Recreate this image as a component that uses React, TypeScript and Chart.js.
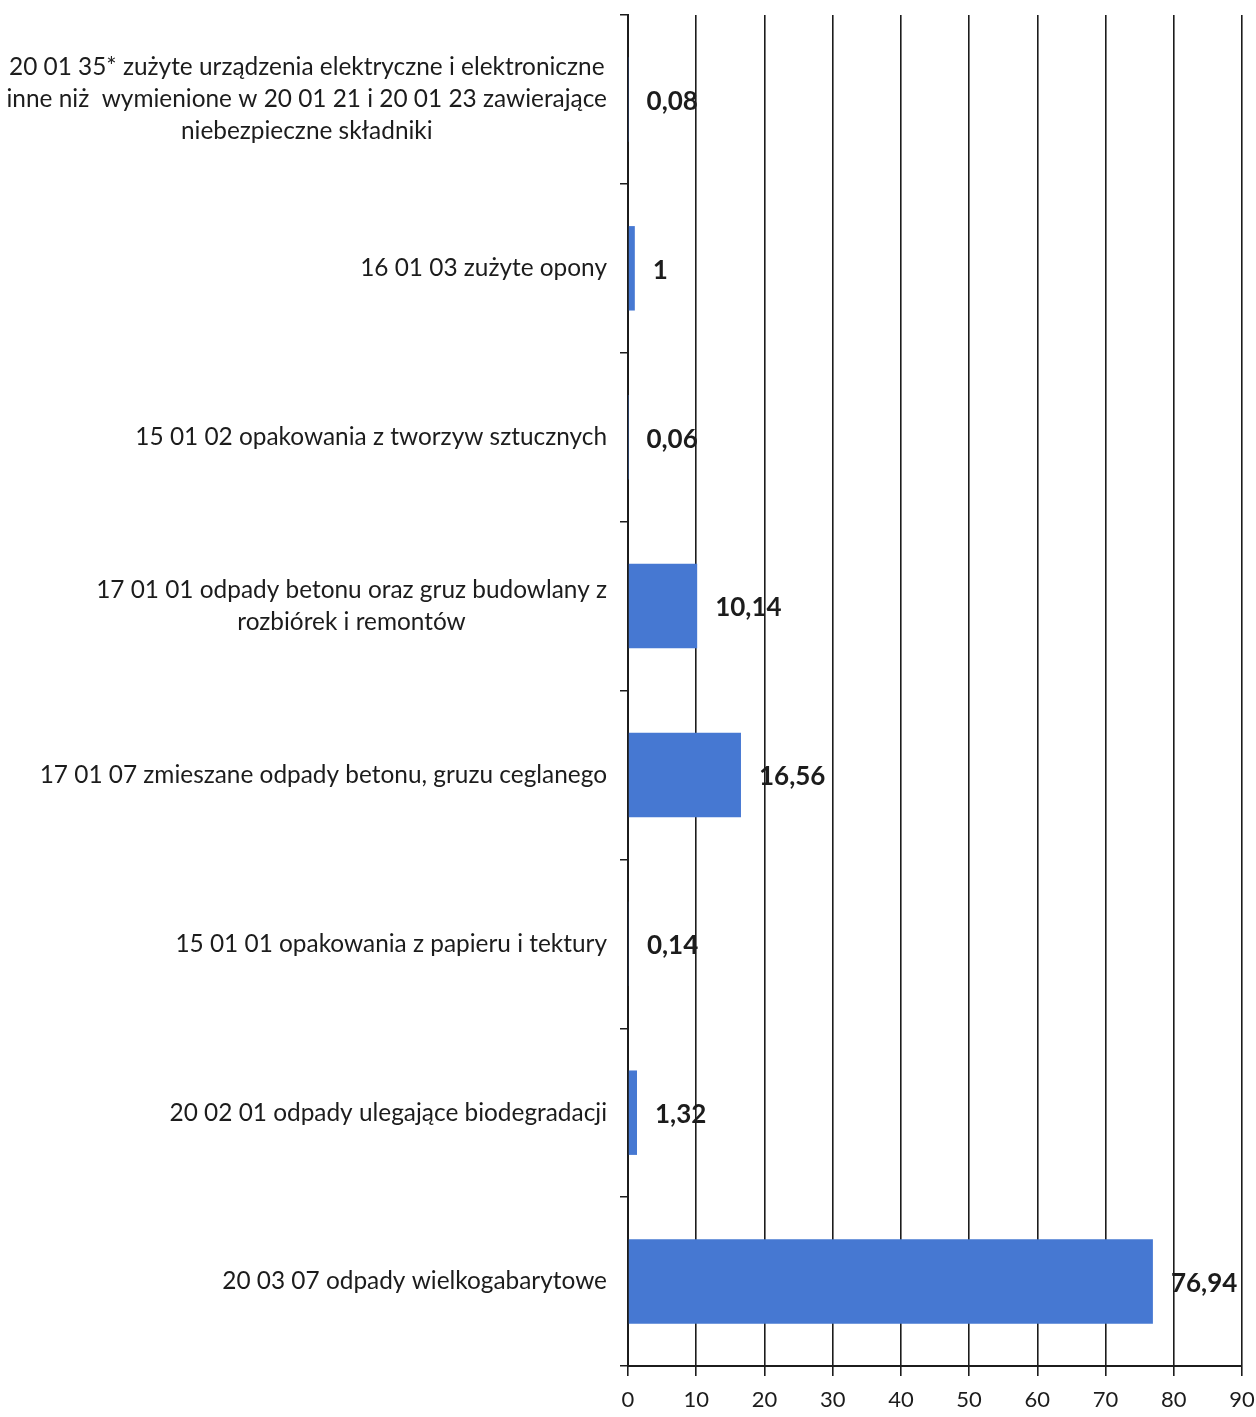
import React, { useEffect, useRef } from 'react';
import { Chart, registerables } from 'chart.js';

Chart.register(...registerables);

const categories: string[][] = [
  [
    '20 01 35* zużyte urządzenia elektryczne i elektroniczne',
    'inne niż  wymienione w 20 01 21 i 20 01 23 zawierające',
    'niebezpieczne składniki',
  ],
  ['16 01 03 zużyte opony'],
  ['15 01 02 opakowania z tworzyw sztucznych'],
  ['17 01 01 odpady betonu oraz gruz budowlany z', 'rozbiórek i remontów'],
  ['17 01 07 zmieszane odpady betonu, gruzu ceglanego'],
  ['15 01 01 opakowania z papieru i tektury'],
  ['20 02 01 odpady ulegające biodegradacji'],
  ['20 03 07 odpady wielkogabarytowe'],
];

const values: number[] = [0.08, 1, 0.06, 10.14, 16.56, 0.14, 1.32, 76.94];

const xMin = 0;
const xMax = 90;
const xStep = 10;

const FONT = 'Lato';
const INK = '#1c1c1c';
const BAR = '#4678d2';

const fmt = (v: number) => String(v).replace('.', ',');

const labelsPlugin = {
  id: 'customLabels',
  afterDatasetsDraw(chart: any) {
    const ctx = chart.ctx as CanvasRenderingContext2D;
    const yScale = chart.scales.y;
    ctx.save();
    ctx.fillStyle = INK;
    ctx.textBaseline = 'middle';

    // category labels: each block right-aligned, lines centred within block
    ctx.font = `24.4px ${FONT}`;
    ctx.textAlign = 'center';
    const right = chart.chartArea.left - 21;
    const lh = 32;
    categories.forEach((lines, i) => {
      const cy = yScale.getPixelForValue(i);
      const widest = Math.max(...lines.map((l) => ctx.measureText(l).width));
      const cx = right - widest / 2;
      lines.forEach((l, j) => {
        ctx.fillText(l, cx, cy + (j - (lines.length - 1) / 2) * lh);
      });
    });

    // value labels
    ctx.font = `bold 26px ${FONT}`;
    ctx.textAlign = 'left';
    const meta = chart.getDatasetMeta(0);
    meta.data.forEach((bar: any, i: number) => {
      ctx.fillText(fmt(values[i]), bar.x + 18, bar.y + 2);
    });
    ctx.restore();
  },
};

export default function App() {
  const ref = useRef<HTMLCanvasElement | null>(null);

  useEffect(() => {
    if (!ref.current) return;
    const chart = new Chart(ref.current, {
      type: 'bar',
      data: {
        labels: categories.map((c) => c.join(' ')),
        datasets: [
          {
            data: values,
            backgroundColor: BAR,
            borderWidth: 0,
            barPercentage: 0.5,
            categoryPercentage: 1,
          },
        ],
      },
      options: {
        indexAxis: 'y',
        animation: false,
        responsive: true,
        maintainAspectRatio: false,
        layout: { padding: { top: 15, right: 0, left: 0, bottom: 0 } },
        plugins: {
          legend: { display: false },
          tooltip: { enabled: false },
        },
        scales: {
          x: {
            type: 'linear',
            min: xMin,
            max: xMax,
            ticks: {
              stepSize: xStep,
              color: INK,
              font: { family: FONT, size: 22 },
              padding: 11,
            },
            grid: {
              color: INK,
              lineWidth: 1.6,
              tickLength: 10,
              drawOnChartArea: true,
            },
            border: { display: true, color: INK, width: 2 },
            afterFit: (s: any) => {
              s.height = 51;
              s.paddingRight = 14;
            },
          },
          y: {
            type: 'category',
            ticks: { display: false },
            grid: {
              offset: true,
              drawOnChartArea: false,
              drawTicks: true,
              tickLength: 8,
              color: INK,
              lineWidth: 1.5,
            },
            border: { display: true, color: INK, width: 2 },
            afterFit: (s: any) => {
              s.width = 628;
            },
          },
        },
      },
      plugins: [labelsPlugin],
    });
    return () => chart.destroy();
  }, []);

  return (
    <div style={{ position: 'absolute', left: 0, top: 0, width: 1256, height: 1417, background: '#fff' }}>
      <canvas ref={ref} />
    </div>
  );
}
